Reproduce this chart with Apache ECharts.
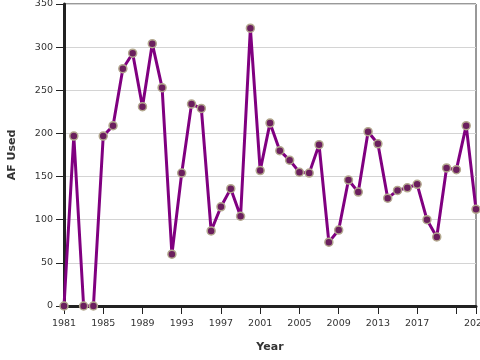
<!DOCTYPE html>
<html lang="en">
<head>
    <meta charset="UTF-8">
    <title>AF Used by Year</title>
    <script src="https://cdn.jsdelivr.net/npm/echarts@6/dist/echarts.min.js"></script>
    <style>
        html, body { margin: 0; padding: 0; background: #fff; }
        #container { width: 480px; height: 360px; }
    </style>
</head>
<body>
<div id="container"></div>
<script>
    // years 1981..2023 and the AF used each year
    const years = [1981, 1982, 1983, 1984, 1985, 1986, 1987, 1988, 1989, 1990,
        1991, 1992, 1993, 1994, 1995, 1996, 1997, 1998, 1999, 2000,
        2001, 2002, 2003, 2004, 2005, 2006, 2007, 2008, 2009, 2010,
        2011, 2012, 2013, 2014, 2015, 2016, 2017, 2018, 2019, 2020,
        2021, 2022, 2023];
    const afUsed = [0, 197, 0, 0, 197, 209, 275, 293, 231, 304,
        253, 60, 154, 234, 229, 87, 115, 136, 104, 322,
        157, 212, 180, 169, 155, 154, 187, 74, 88, 146,
        132, 202, 188, 125, 134, 137, 141, 100, 80, 160,
        158, 209, 112];
    const hiddenYearLabels = [2021];

    const points = years.map((y, i) => [y, afUsed[i]]);

    var dom = document.getElementById('container');
    var myChart = echarts.init(dom, null, { renderer: 'canvas' });

    var option = {
        animation: false,
        grid: {
            left: 64, right: 4, top: 4, bottom: 54,
            outerBoundsMode: 'none',
            containLabel: false,
            show: true,
            borderColor: '#333',
            borderWidth: 1
        },
        xAxis: {
            type: 'value',
            min: 1981,
            max: 2023,
            interval: 4,
            name: 'Year',
            nameLocation: 'middle',
            nameGap: 36,
            nameTextStyle: { fontFamily: 'DejaVu Sans', fontWeight: 'bold', fontSize: 11, color: '#333' },
            axisLine: { lineStyle: { color: '#222', width: 3 } },
            axisTick: { show: true, length: 8, lineStyle: { color: '#222', width: 1 } },
            axisLabel: {
                margin: 13,
                fontFamily: 'DejaVu Sans',
                fontSize: 9.5,
                color: '#333',
                showMinLabel: true,
                showMaxLabel: true,
                formatter: function (v) {
                    return hiddenYearLabels.indexOf(v) >= 0 ? '' : String(v);
                }
            },
            splitLine: { show: false }
        },
        yAxis: {
            type: 'value',
            min: 0,
            max: 350,
            interval: 50,
            name: 'AF Used',
            nameLocation: 'middle',
            nameRotate: 90,
            nameGap: 46,
            nameTextStyle: { fontFamily: 'DejaVu Sans', fontWeight: 'bold', fontSize: 11, color: '#333' },
            axisLine: { show: true, lineStyle: { color: '#222', width: 3 } },
            axisTick: { show: true, length: 8, lineStyle: { color: '#222', width: 1 } },
            axisLabel: { margin: 11, fontFamily: 'DejaVu Sans', fontSize: 9.5, color: '#333' },
            splitLine: { lineStyle: { color: '#d4d4d4', width: 1 } }
        },
        series: [
            {
                type: 'line',
                data: points,
                symbol: 'circle',
                symbolSize: 8,
                showAllSymbol: true,
                lineStyle: { color: '#800080', width: 3 },
                itemStyle: { color: '#6b1f5e', borderColor: '#b3a88e', borderWidth: 1.5 },
                z: 3
            }
        ]
    };
    myChart.setOption(option);
    window.addEventListener('resize', myChart.resize);
</script>
</body>
</html>
